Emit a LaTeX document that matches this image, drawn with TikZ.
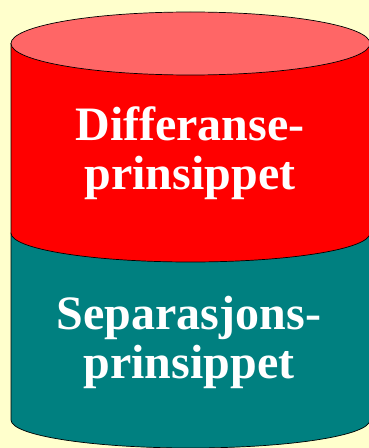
\documentclass[tikz,border=0pt]{standalone}
\usepackage{fontspec}
\setmainfont{Liberation Serif}
\usetikzlibrary{positioning}

\definecolor{bakgrunn}{HTML}{FFFFCC}
\definecolor{lokk}{HTML}{FF6666}
\definecolor{rod}{HTML}{FF0000}
\definecolor{teal}{HTML}{008080}

\begin{document}
\begin{tikzpicture}[x=1pt, y=1pt,
  kant/.style={draw=black, line width=0.7pt},
  tekst/.style={text=white, align=center, inner sep=0pt, anchor=base,
    font=\fontsize{48}{49}\selectfont\bfseries}]

%bakgrunn
\fill[bakgrunn] (0,0) rectangle (369,448);
\useasboundingbox (0,0) rectangle (369,448);

%nedre del av sylinderen
\path[kant, fill=teal] (11,215) -- (11,28)
  arc[start angle=180, end angle=360, x radius=179.5, y radius=28]
  -- (370,215) -- cycle;

%øvre del av sylinderen
\path[kant, fill=rod] (11,404.5) -- (11,215)
  arc[start angle=180, end angle=360, x radius=179.5, y radius=29]
  -- (370,404.5) -- cycle;

%lokket
\path[kant, fill=lokk] (190.5,404.5) ellipse[x radius=179.5, y radius=31.5];

%tekster
\node[tekst] (diff) at (190,258) {Differanse-\\prinsippet};
\node[tekst] (sep) at (189,70) {Separasjons-\\prinsippet};

\end{tikzpicture}
\end{document}
